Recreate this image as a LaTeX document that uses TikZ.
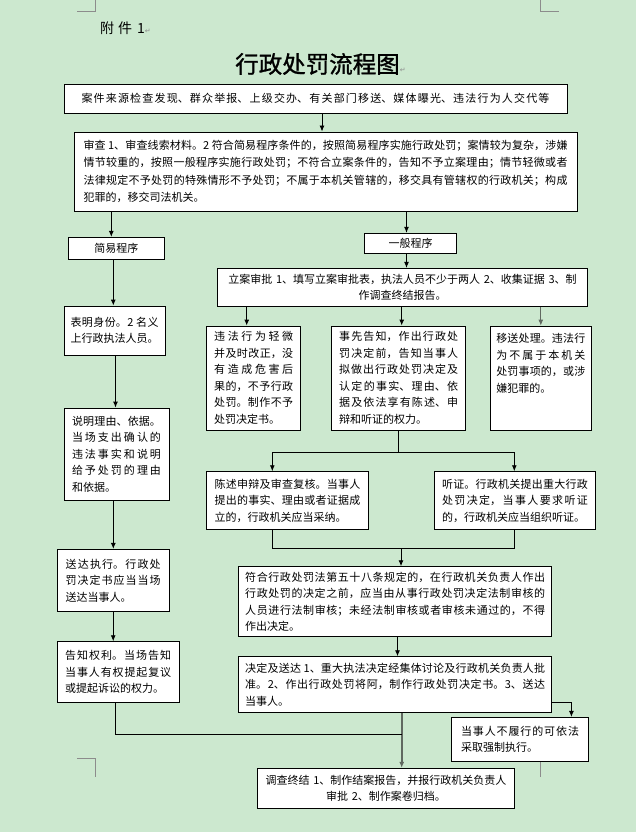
\documentclass[tikz,border=0pt]{standalone}
\usepackage{fontspec}
\setmainfont{Noto Sans CJK SC}
\newfontfamily\markfont{DejaVu Sans}
\newfontfamily\titlefont[FakeBold=1.2]{Noto Sans CJK SC}
\usepackage{tikz}
\usetikzlibrary{arrows.meta,calc}
\XeTeXlinebreaklocale "zh"
\XeTeXlinebreakskip=0pt plus 3pt
\definecolor{pagegreen}{RGB}{204,232,207}
\definecolor{markgray}{RGB}{140,140,140}
\definecolor{linegray}{RGB}{96,104,96}
\newcommand{\boxfont}{\fontsize{11}{16.5}\selectfont}
\newcommand{\pmark}{{\markfont\fontsize{7}{7}\selectfont\color{markgray}↵}}

\begin{document}
\begin{tikzpicture}[x=1pt,y=-1pt,
	box/.style={draw,fill=white,line width=0.9pt,inner sep=2pt,font=\boxfont,align=justify},
	midbox/.style={box,align=center,font={\boxfont\XeTeXlinebreakskip=0pt\relax}},
	flow/.style={line width=0.9pt,-{Latex[length=6pt,width=5pt]}},
	cropmark/.style={draw=markgray,line width=0.8pt}]
		\fill[pagegreen] (0,0) rectangle (636,832);
		\useasboundingbox (0,0) rectangle (636,832);
%
		\draw[cropmark] (77,11) -- (95.7,11) -- (95.7,0);
		\draw[cropmark] (540.7,0) -- (540.7,11) -- (559,11);
		\draw[cropmark] (77,758) -- (95.7,758) -- (95.7,777);
		\draw[cropmark] (559,758) -- (540.5,758) -- (540.5,777);
%
		\node[anchor=west,font=\fontsize{14}{16}\selectfont] (annex) at (96.5,28.5) {附\hspace{4pt}件\hspace{5pt}1\pmark};
		\node[font=\titlefont\fontsize{23.5}{26}\selectfont] (title) at (317.5,64) {行政处罚流程图\rlap{\pmark}};
%
		\node[box,minimum width=503pt,minimum height=29pt,text width=468pt] (src) at (315.5,98.5)
			{\parfillskip=0pt 案件来源检查发现、群众举报、上级交办、有关部门移送、媒体曝光、违法行为人交代等\par};
		\node[box,minimum width=503pt,minimum height=79pt,text width=484pt,font=\fontsize{11}{17.5}\selectfont] (review) at (325.5,171.5)
			{审查 1、审查线索材料。2 符合简易程序条件的，按照简易程序实施行政处罚；案情较为复杂，涉嫌\linebreak
			情节较重的，按照一般程序实施行政处罚；不符合立案条件的，告知不予立案理由；情节轻微或者\linebreak
			法律规定不予处罚的特殊情形不予处罚；不属于本机关管辖的，移交具有管辖权的行政机关；构成\linebreak
			犯罪的，移交司法机关。};
		\node[box,minimum width=96pt,minimum height=22pt] (simple) at (116.3,248.3) {简易程序};
		\node[box,minimum width=92.4pt,minimum height=20pt] (general) at (410.5,243.3) {一般程序};
		\node[midbox,minimum width=370.4pt,minimum height=37.7pt,text width=360pt] (filing) at (402.5,287.2)
			{立案审批 1、填写立案审批表，执法人员不少于两人 2、收集证据 3、制\\作调查终结报告。\par};
%
		\node[box,minimum width=94pt,minimum height=104pt,text width=79pt] (A) at (253.7,378)
			{违法行为轻微\linebreak 并及时改正，没\linebreak 有造成危害后\linebreak 果的，不予行政\linebreak 处罚。制作不予\linebreak 处罚决定书。};
		\node[box,minimum width=134pt,minimum height=104pt,text width=119pt] (B) at (398.7,378)
			{事先告知，作出行政处\linebreak 罚决定前，告知当事人\linebreak 拟做出行政处罚决定及\linebreak 认定的事实、理由、依\linebreak 据及依法享有陈述、申\linebreak 辩和听证的权力。};
		\node[box,minimum width=101.7pt,minimum height=104pt,text width=89pt,text depth=80pt] (C) at (540.8,378)
			{移送处理。违法行\linebreak 为不属于本机关\linebreak 处罚事项的，或涉\linebreak 嫌犯罪的。};
%
		\node[box,minimum width=101pt,minimum height=49pt,text width=88pt] (id) at (114.5,330.5)
			{表明身份。2 名义\linebreak 上行政执法人员。};
		\node[box,minimum width=105pt,minimum height=92pt,text width=89pt] (reason) at (116.5,454)
			{说明理由、依据。\linebreak 当场支出确认的\linebreak 违法事实和说明\linebreak 给予处罚的理由\linebreak 和依据。};
		\node[box,minimum width=111.7pt,minimum height=62.4pt,text width=95pt] (deliver) at (113.2,580.5)
			{送达执行。行政处\linebreak 罚决定书应当当场\linebreak 送达当事人。};
		\node[box,minimum width=122.2pt,minimum height=60.6pt,text width=106pt] (rights) at (118.2,672)
			{告知权利。当场告知\linebreak 当事人有权提起复议\linebreak 或提起诉讼的权力。};
%
		\node[box,minimum width=161.6pt,minimum height=57.6pt,text width=146pt] (plead) at (287.5,500.5)
			{陈述申辩及审查复核。当事人\linebreak 提出的事实、理由或者证据成\linebreak 立的，行政机关应当采纳。};
		\node[box,minimum width=161.4pt,minimum height=57.6pt,text width=146pt] (hearing) at (515,500.5)
			{听证。行政机关提出重大行政\linebreak 处罚决定，当事人要求听证\linebreak 的，行政机关应当组织听证。};
		\node[box,minimum width=313.2pt,minimum height=70pt,text width=300pt] (legal) at (395.2,601.7)
			{符合行政处罚法第五十八条规定的，在行政机关负责人作出\linebreak
			行政处罚的决定之前，应当由从事行政处罚决定法制审核的\linebreak
			人员进行法制审核；未经法制审核或者审核未通过的，不得\linebreak
			作出决定。};
		\node[box,minimum width=313.2pt,minimum height=55.6pt,text width=300pt] (decide) at (395.2,684.5)
			{决定及送达 1、重大执法决定经集体讨论及行政机关负责人批\linebreak
			准。2、作出行政处罚将阿，制作行政处罚决定书。3、送达\linebreak
			当事人。};
		\node[box,minimum width=136.5pt,minimum height=43.7pt,text width=118pt] (enforce) at (520,739.2)
			{当事人不履行的可依法\linebreak 采取强制执行。};
		\node[midbox,minimum width=256.4pt,minimum height=40pt,text width=246pt] (close) at (386.1,788.3)
			{调查终结 1、制作结案报告，并报行政机关负责人\\审批 2、制作案卷归档。\par};
%
		\draw[flow] ($(src.south)+(6.5,0)$) -- ($(src.south |- review.north)+(6.5,0)$);
		\draw[flow] ($(review.south -| simple.north)+(-5,0)$) -- ($(simple.north)+(-5,0)$);
		\draw[flow] ($(review.south -| general.north)+(-4,0)$) -- ($(general.north)+(-4,0)$);
		\draw[flow] ($(simple.south)+(-3,0)$) -- ($(simple.south |- id.north)+(-3,0)$);
		\draw[flow] ($(id.south)+(1,0)$) -- ($(id.south |- reason.north)+(1,0)$);
		\draw[flow] ($(reason.south)+(-3.2,0)$) -- ($(reason.south |- deliver.north)+(-3.2,0)$);
		\draw[flow] (deliver.south) -- (deliver.south |- rights.north);
		\draw[flow] ($(general.south)+(-4,0)$) -- ($(general.south |- filing.north)+(-4,0)$);
		\draw[flow] ($(filing.south -| A.north)+(-7,0)$) -- ($(A.north)+(-7,0)$);
		\draw[flow] ($(filing.south -| B.north)+(3,0)$) -- ($(B.north)+(3,0)$);
		\draw[flow,draw=linegray] (filing.south -| C.north) -- (C.north);
%
		\coordinate (j1) at ($(B.south)+(-1,21.7)$);
		\draw ($(B.south)+(-1,0)$) -- (j1);
		\draw[flow] (j1) -| ($(plead.north)+(-15.2,0)$);
		\draw[flow] (j1) -| ($(hearing.north)+(-0.7,0)$);
		\coordinate (j2) at ($(legal.north)+(5.8,-17.4)$);
		\draw[line width=0.9pt] ($(plead.south)+(-15.2,0)$) |- (j2) -| ($(hearing.south)+(-0.7,0)$);
		\draw[flow] (j2) -- ($(legal.north)+(5.8,0)$);
		\draw[flow] ($(legal.south)+(2.3,0)$) -- ($(legal.south |- decide.north)+(2.3,0)$);
		\draw[flow] ($(decide.east)+(0,17.8)$) -| ($(enforce.north)+(51.4,0)$);
		\coordinate (j3) at ($(decide.south)+(6.5,0)$);
		\draw[flow,draw=linegray,line width=2pt] (j3) -- (j3 |- close.north);
		\draw[line width=0.9pt] ($(rights.south)+(-2.8,0)$) |- ($(j3)+(0,22)$);
	\end{tikzpicture}
\end{document}
